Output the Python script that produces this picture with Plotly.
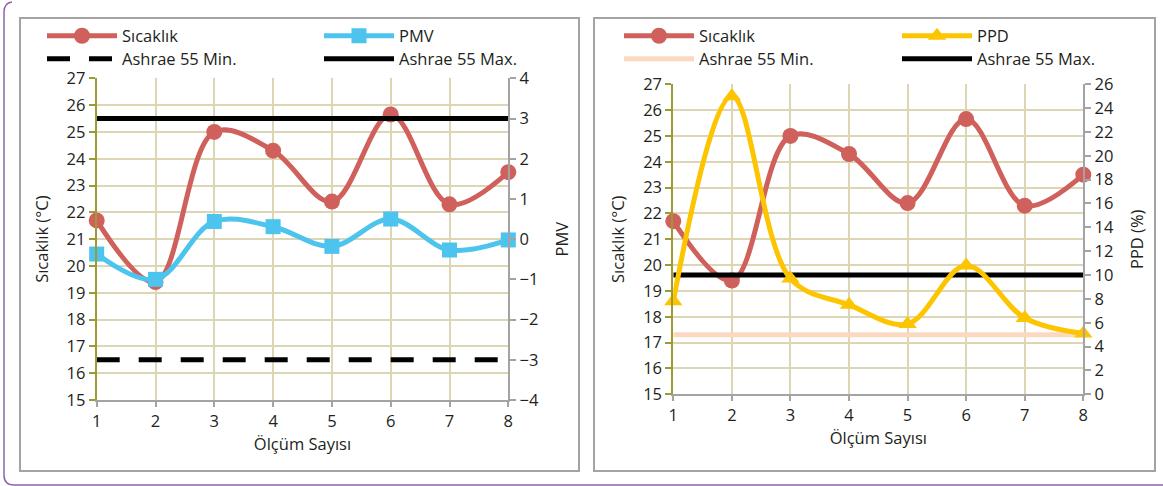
import plotly.graph_objects as go

# ---------------- data ----------------
olcum = [1, 2, 3, 4, 5, 6, 7, 8]
sicaklik = [21.7, 19.4, 25.0, 24.3, 22.4, 25.65, 22.3, 23.5]
pmv = [-0.37, -1.0, 0.44, 0.31, -0.18, 0.5, -0.27, -0.02]
ppd = [7.8, 25.0, 9.7, 7.5, 5.9, 10.8, 6.4, 5.1]
ashrae_pmv_min = [-3, -3]
ashrae_pmv_max = [3, 3]
ashrae_ppd_min = [5, 5]
ashrae_ppd_max = [10, 10]
ashrae_x = [1, 8]
temp_ticks = list(range(15, 28))
pmv_ticks = list(range(-4, 5))
ppd_ticks = list(range(0, 27, 2))

# ---------------- style ----------------
W, H = 1163, 486
RED = "#cf605b"
BLUE = "#4cc4ee"
YEL = "#fdc400"
PEACH = "#fbd8c0"
GRID = "#dcd6b4"
OLIVE = "#9c9a32"
GRAY = "#a3a3a3"
TXT = "#231f20"
FONT = "Open Sans"
FS = 16.5

def px(x):
    return x / W

def py(y):
    return 1 - y / H

fig = go.Figure()

LW = 5
# ---- left panel ----
fig.add_trace(go.Scatter(x=ashrae_x, y=ashrae_pmv_min, xaxis="x", yaxis="y2", mode="lines",
                         line=dict(color="black", width=LW, dash="23px,19px"),
                         name="Ashrae 55 Min.", legend="legend3", showlegend=True, hoverinfo="skip"))
fig.add_trace(go.Scatter(x=ashrae_x, y=ashrae_pmv_max, xaxis="x", yaxis="y2", mode="lines",
                         line=dict(color="black", width=LW),
                         name="Ashrae 55 Max.", legend="legend4", showlegend=True, hoverinfo="skip"))
fig.add_trace(go.Scatter(x=olcum, y=sicaklik, xaxis="x", yaxis="y", mode="lines+markers",
                         line=dict(color=RED, width=LW, shape="spline"),
                         marker=dict(symbol="circle", size=16, color=RED),
                         name="Sıcaklık", legend="legend", showlegend=True, cliponaxis=False))
fig.add_trace(go.Scatter(x=olcum, y=pmv, xaxis="x", yaxis="y2", mode="lines+markers",
                         line=dict(color=BLUE, width=LW, shape="spline"),
                         marker=dict(symbol="square", size=15, color=BLUE),
                         name="PMV", legend="legend2", showlegend=True, cliponaxis=False))

# ---- right panel ----
fig.add_trace(go.Scatter(x=ashrae_x, y=ashrae_ppd_min, xaxis="x2", yaxis="y4", mode="lines",
                         line=dict(color=PEACH, width=LW),
                         name="Ashrae 55 Min.", legend="legend7", showlegend=True, hoverinfo="skip"))
fig.add_trace(go.Scatter(x=ashrae_x, y=ashrae_ppd_max, xaxis="x2", yaxis="y4", mode="lines",
                         line=dict(color="black", width=LW),
                         name="Ashrae 55 Max.", legend="legend8", showlegend=True, hoverinfo="skip"))
fig.add_trace(go.Scatter(x=olcum, y=sicaklik, xaxis="x2", yaxis="y3", mode="lines+markers",
                         line=dict(color=RED, width=LW, shape="spline"),
                         marker=dict(symbol="circle", size=16, color=RED),
                         name="Sıcaklık", legend="legend5", showlegend=True, cliponaxis=False))
fig.add_trace(go.Scatter(x=olcum, y=ppd, xaxis="x2", yaxis="y4", mode="lines+markers",
                         line=dict(color=YEL, width=LW, shape="spline"),
                         marker=dict(symbol="triangle-up", size=16, color=YEL),
                         name="PPD", legend="legend6", showlegend=True, cliponaxis=False))

# ---------------- axes ----------------
L_X = [px(96.7), px(508.3)]
L_Y = [py(400), py(78.3)]
R_X = [px(673.3), px(1083.3)]
R_Y = [py(394.3), py(84.2)]

tickfont = dict(family=FONT, size=FS, color=TXT)
titlefont = dict(family=FONT, size=FS, color=TXT)

def xax(domain, anchor):
    return dict(domain=domain, anchor=anchor, range=[1, 8], tickmode="array", tickvals=olcum,
                showgrid=True, gridcolor=GRID, gridwidth=2, zeroline=False,
                showline=True, linecolor=GRAY, linewidth=2,
                ticks="outside", ticklen=5, tickcolor=GRAY, tickwidth=2,
                tickfont=tickfont, title=dict(text="Ölçüm Sayısı", font=titlefont, standoff=3),
                fixedrange=True)

def yleft(domain, anchor):
    return dict(domain=domain, anchor=anchor, range=[15, 27], tickmode="array", tickvals=temp_ticks,
                showgrid=True, gridcolor=GRID, gridwidth=2, zeroline=False,
                showline=True, linecolor=OLIVE, linewidth=2,
                ticks="outside", ticklen=6, tickcolor=OLIVE, tickwidth=2,
                tickfont=tickfont, title=dict(text="Sıcaklık (°C)", font=titlefont, standoff=14),
                fixedrange=True)

def yright(over, anchor, rng, vals, title, standoff):
    return dict(overlaying=over, anchor=anchor, side="right", range=rng, tickmode="array",
                tickvals=vals, showgrid=False, zeroline=False,
                showline=True, linecolor=GRAY, linewidth=2,
                ticks="outside", ticklen=6, tickcolor=GRAY, tickwidth=2,
                tickfont=tickfont, title=dict(text=title, font=titlefont, standoff=standoff),
                fixedrange=True)

fig.update_layout(
    xaxis=xax(L_X, "y"),
    yaxis=yleft(L_Y, "x"),
    yaxis2=yright("y", "x", [-4, 4], pmv_ticks, "PMV", 18),
    xaxis2=xax(R_X, "y3"),
    yaxis3=yleft(R_Y, "x2"),
    yaxis4=yright("y3", "x2", [0, 26], ppd_ticks, "PPD (%)", 18),
)

# ---------------- legends ----------------
def leg(xpos, ypos):
    return dict(x=px(xpos), y=py(ypos), xanchor="left", yanchor="middle",
                bgcolor="rgba(0,0,0,0)", borderwidth=0, itemwidth=70,
                font=dict(family=FONT, size=FS, color=TXT), itemclick=False,
                itemdoubleclick=False, visible=True)

ROW1, ROW2 = 36, 59
fig.update_layout(
    legend=leg(42, ROW1), legend2=leg(319, ROW1),
    legend3=leg(42, ROW2), legend4=leg(319, ROW2),
    legend5=leg(619, ROW1), legend6=leg(897, ROW1),
    legend7=leg(619, ROW2), legend8=leg(897, ROW2),
)

# ---------------- frames ----------------
shapes = [
    dict(type="rect", xref="paper", yref="paper", x0=px(20), x1=px(579), y0=py(471), y1=py(18),
         line=dict(color=GRAY, width=2), layer="below"),
    dict(type="rect", xref="paper", yref="paper", x0=px(594), x1=px(1155), y0=py(471), y1=py(18),
         line=dict(color=GRAY, width=2), layer="below"),
    dict(type="path", xref="paper", yref="paper",
         path=f"M {px(12)},{py(2)} Q {px(4)},{py(3)} {px(4)},{py(12)} L {px(4)},{py(475)} "
              f"Q {px(4)},{py(485)} {px(14)},{py(485)} L {px(1163)},{py(485)}",
         line=dict(color="#8f63ad", width=1.5)),
]
fig.update_layout(shapes=shapes)

fig.update_layout(
    width=W, height=H, margin=dict(l=0, r=0, t=0, b=0, autoexpand=False),
    paper_bgcolor="white", plot_bgcolor="white", showlegend=True,
    font=dict(family=FONT, size=FS, color=TXT),
)

fig.write_html("out.html", config={"displayModeBar": False},
               post_script="document.body.style.margin='0';")
